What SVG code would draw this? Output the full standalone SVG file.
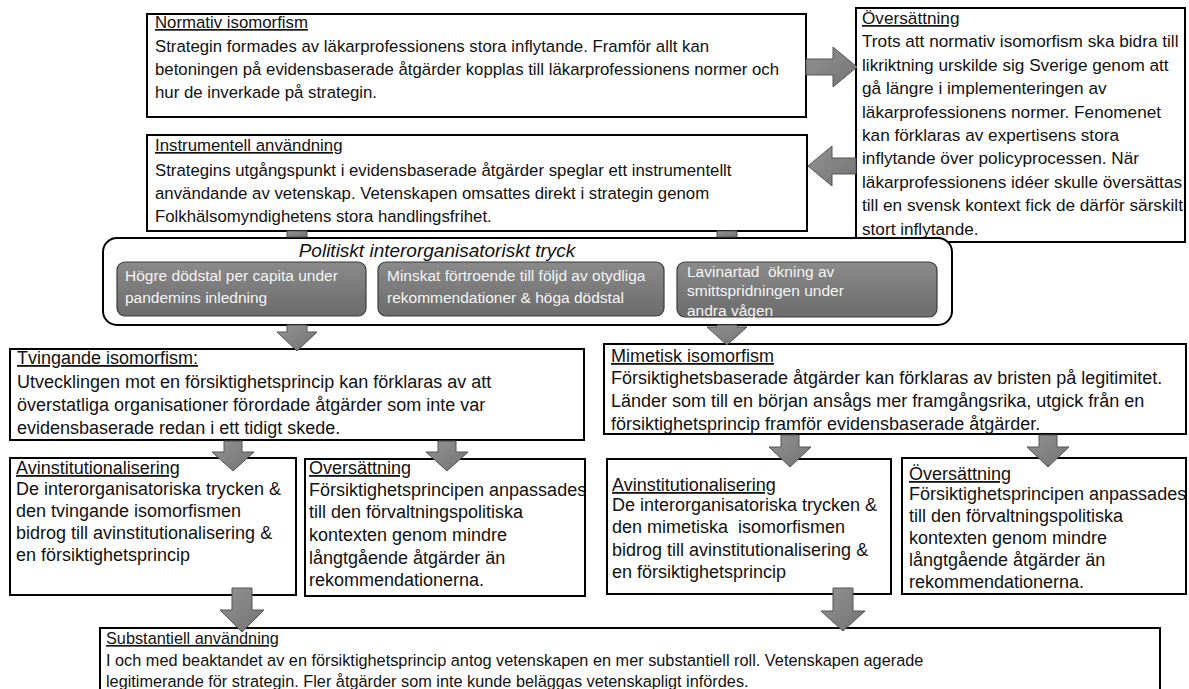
<svg xmlns="http://www.w3.org/2000/svg" width="1189" height="689" viewBox="0 0 1189 689">
<defs>
<linearGradient id="ag" x1="0" y1="0" x2="1" y2="1">
<stop offset="0" stop-color="#939393"/>
<stop offset="1" stop-color="#727272"/>
</linearGradient>
<linearGradient id="gb" x1="0" y1="0" x2="0" y2="1">
<stop offset="0" stop-color="#8a8a8a"/>
<stop offset="1" stop-color="#6c6c6c"/>
</linearGradient>
<style>
.box{fill:#fff;stroke:#000;stroke-width:2}
.arr{fill:url(#ag);stroke:#555;stroke-width:1}
.inner{fill:url(#gb);stroke:#3c3c3c;stroke-width:1.2}
text{font-family:'Liberation Sans',Arial,sans-serif;fill:#111}
.t1{font-size:16.8px}
.t2{font-size:17.2px}
.t3{font-size:18px}
.t4{font-size:18px}
.t5{font-size:16.3px}
.w{font-size:15.5px;fill:#f4f4f4}
.u{text-decoration:underline}
.it{font-style:italic;font-size:19px}
</style>
</defs>
<rect width="1189" height="689" fill="#fff"/>

<g id="normativ">
<rect class="box" x="147" y="14" width="659" height="103"/>
<text class="t1" x="155"><tspan class="u" y="28">Normativ isomorfism</tspan><tspan x="155" y="52">Strategin formades av läkarprofessionens stora inflytande. Framför allt kan</tspan><tspan x="155" y="75">betoningen på evidensbaserade åtgärder kopplas till läkarprofessionens normer och</tspan><tspan x="155" y="98">hur de inverkade på strategin.</tspan></text>
</g>

<g id="oversattning-top">
<rect class="box" x="856" y="8" width="329" height="234"/>
<text class="t2" x="862"><tspan class="u" y="24">Översättning</tspan><tspan x="862" y="47">Trots att normativ isomorfism ska bidra till</tspan><tspan x="862" y="71">likriktning urskilde sig Sverige genom att</tspan><tspan x="862" y="94">gå längre i implementeringen av</tspan><tspan x="862" y="118">läkarprofessionens normer. Fenomenet</tspan><tspan x="862" y="141">kan förklaras av expertisens stora</tspan><tspan x="862" y="164">inflytande över policyprocessen. När</tspan><tspan x="862" y="188">läkarprofessionens idéer skulle översättas</tspan><tspan x="862" y="211">till en svensk kontext fick de därför särskilt</tspan><tspan x="862" y="235">stort inflytande.</tspan></text>
</g>

<g id="instrumentell">
<rect class="box" x="147" y="135" width="660" height="96"/>
<text class="t1" x="155"><tspan class="u" y="151">Instrumentell användning</tspan><tspan x="155" y="176">Strategins utgångspunkt i evidensbaserade åtgärder speglar ett instrumentellt</tspan><tspan x="155" y="199">användande av vetenskap. Vetenskapen omsattes direkt i strategin genom</tspan><tspan x="155" y="222">Folkhälsomyndighetens stora handlingsfrihet.</tspan></text>
</g>

<g id="tryck">
<rect x="103" y="238" width="849" height="87" rx="14" fill="#fff" stroke="#000" stroke-width="2"/>
<text class="it" x="437" y="257" text-anchor="middle">Politiskt interorganisatoriskt tryck</text>
<rect class="inner" x="117" y="262" width="249" height="54" rx="8"/>
<text class="w" x="125"><tspan y="281">Högre dödstal per capita under</tspan><tspan x="125" y="303">pandemins inledning</tspan></text>
<rect class="inner" x="378" y="262" width="286" height="54" rx="8"/>
<text class="w" x="387"><tspan y="281">Minskat förtroende till följd av otydliga</tspan><tspan x="387" y="303">rekommendationer &amp; höga dödstal</tspan></text>
<rect class="inner" x="677" y="262" width="260" height="55" rx="8"/>
<text class="w" x="687" xml:space="preserve"><tspan y="277">Lavinartad  ökning av</tspan><tspan x="687" y="296">smittspridningen under</tspan><tspan x="687" y="316">andra vågen</tspan></text>
</g>

<g id="tvingande">
<rect class="box" x="10" y="349" width="574" height="91"/>
<text class="t3" x="17"><tspan class="u" y="364">Tvingande isomorfism:</tspan><tspan x="17" y="388">Utvecklingen mot en försiktighetsprincip kan förklaras av att</tspan><tspan x="17" y="411">överstatliga organisationer förordade åtgärder som inte var</tspan><tspan x="17" y="434">evidensbaserade redan i ett tidigt skede.</tspan></text>
</g>

<g id="mimetisk">
<rect class="box" x="604" y="344" width="582" height="90"/>
<text class="t3" x="611"><tspan class="u" y="362">Mimetisk isomorfism</tspan><tspan x="611" y="384">Försiktighetsbaserade åtgärder kan förklaras av bristen på legitimitet.</tspan><tspan x="611" y="407">Länder som till en början ansågs mer framgångsrika, utgick från en</tspan><tspan x="611" y="430">försiktighetsprincip framför evidensbaserade åtgärder.</tspan></text>
</g>

<g id="avinst-left">
<rect class="box" x="10" y="458" width="286" height="137"/>
<text class="t4" x="16"><tspan class="u" y="474">Avinstitutionalisering</tspan><tspan x="16" y="495">De interorganisatoriska trycken &amp;</tspan><tspan x="16" y="517">den tvingande isomorfismen</tspan><tspan x="16" y="539">bidrog till avinstitutionalisering &amp;</tspan><tspan x="16" y="561">en försiktighetsprincip</tspan></text>
</g>

<g id="oversattning-left">
<rect class="box" x="305" y="459" width="280" height="137"/>
<text class="t4" x="309"><tspan class="u" y="474">Översättning</tspan><tspan x="309" y="496">Försiktighetsprincipen anpassades</tspan><tspan x="309" y="518">till den förvaltningspolitiska</tspan><tspan x="309" y="541">kontexten genom mindre</tspan><tspan x="309" y="564">långtgående åtgärder än</tspan><tspan x="309" y="586">rekommendationerna.</tspan></text>
</g>

<g id="avinst-right">
<rect class="box" x="607" y="459" width="284" height="135"/>
<text class="t4" x="612"><tspan class="u" y="491">Avinstitutionalisering</tspan><tspan x="612" y="511">De interorganisatoriska trycken &amp;</tspan><tspan x="612" y="533" xml:space="preserve">den mimetiska  isomorfismen</tspan><tspan x="612" y="556">bidrog till avinstitutionalisering &amp;</tspan><tspan x="612" y="578">en försiktighetsprincip</tspan></text>
</g>

<g id="oversattning-right">
<rect class="box" x="902" y="458" width="284" height="136"/>
<text class="t4" x="909"><tspan class="u" y="480">Översättning</tspan><tspan x="909" y="500">Försiktighetsprincipen anpassades</tspan><tspan x="909" y="522">till den förvaltningspolitiska</tspan><tspan x="909" y="544">kontexten genom mindre</tspan><tspan x="909" y="566">långtgående åtgärder än</tspan><tspan x="909" y="588">rekommendationerna.</tspan></text>
</g>

<g id="substantiell">
<rect class="box" x="100" y="628" width="1060" height="80"/>
<text class="t5" x="106"><tspan class="u" y="644">Substantiell användning</tspan><tspan x="106" y="666">I och med beaktandet av en försiktighetsprincip antog vetenskapen en mer substantiell roll. Vetenskapen agerade</tspan><tspan x="106" y="687">legitimerande för strategin. Fler åtgärder som inte kunde beläggas vetenskapligt infördes.</tspan></text>
</g>

<g id="connectors">
<path class="arr" d="M806,59 H833 V47 L857,67 L833,87 V75 H806 Z"/>
<path class="arr" d="M856,158 H832 V146 L808,166 L832,186 V174 H856 Z"/>
<path class="arr" d="M287,231 H307 V237 H287 Z"/>
<path class="arr" d="M717,231 H737 V237 H717 Z"/>
<path class="arr" d="M287,325 H307 V332 H317 L297,351 L277,332 H287 Z"/>
<path class="arr" d="M717,325 H737 V327 H747 L727,345 L707,327 H717 Z"/>
<path class="arr" d="M224,441 H242 V452 H254 L233,471 L212,452 H224 Z"/>
<path class="arr" d="M438,441 H456 V452 H468 L447,471 L426,452 H438 Z"/>
<path class="arr" d="M781,435 H799 V447 H811 L790,467 L769,447 H781 Z"/>
<path class="arr" d="M1039,435 H1057 V447 H1069 L1048,467 L1027,447 H1039 Z"/>
<path class="arr" d="M232,588 H252 V610 H264 L242,632 L220,610 H232 Z"/>
<path class="arr" d="M833,588 H853 V611 H865 L843,631 L821,611 H833 Z"/>
</g>
</svg>
